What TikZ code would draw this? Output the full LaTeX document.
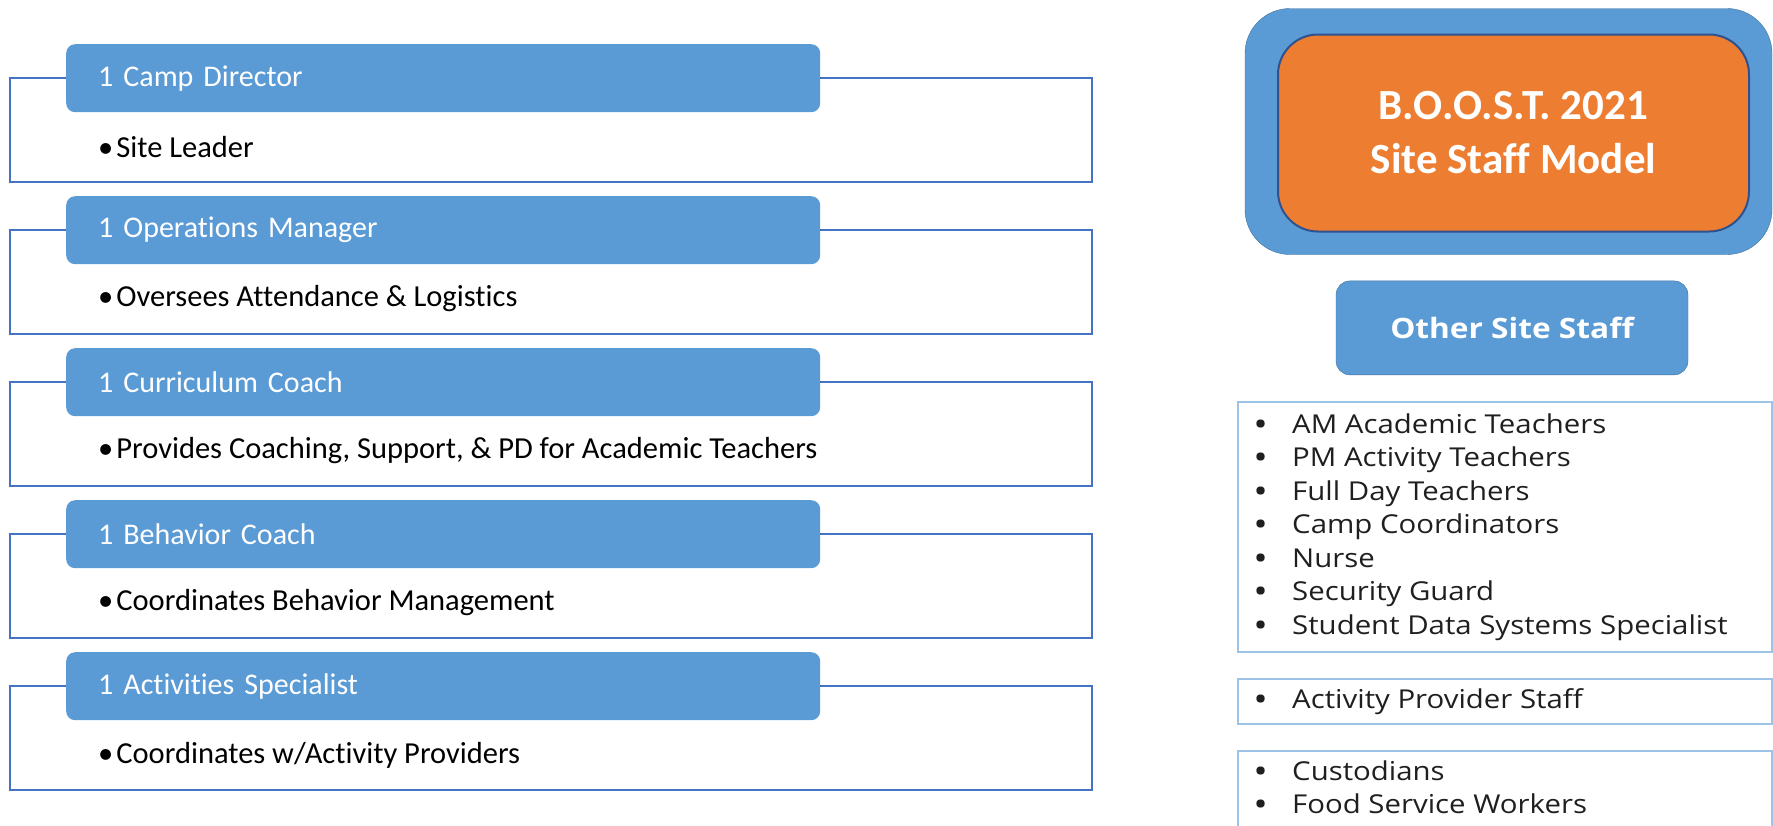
\documentclass[tikz,border=0pt]{standalone}
\usepackage{fontspec}
\setmainfont{Carlito}[Ligatures=NoCommon]
\newfontfamily\listfont{Open Sans}[FakeStretch=1.13]
\usetikzlibrary{positioning}
\definecolor{headblue}{HTML}{5B9BD5}
\definecolor{frameblue}{HTML}{4472C4}
\definecolor{boostorange}{HTML}{ED7D31}
\definecolor{darkrim}{HTML}{2F528F}
\definecolor{listrim}{HTML}{9DC3E6}
\definecolor{softrim}{HTML}{41719C}
\tikzset{roleframe/.style={draw=frameblue, line width=2pt}}
\tikzset{rolehead/.style={fill=headblue, rounded corners=9pt, minimum height=68pt,
      anchor=north west, inner xsep=32pt, text width=690pt, align=left,
      text=white, font=\fontsize{30}{36}\selectfont}}
\tikzset{roletask/.style={anchor=west, inner sep=0pt, font=\fontsize{30.5}{36}\selectfont}}
\tikzset{listbox/.style={draw=listrim, line width=2pt, anchor=north west, minimum width=534pt}}
\tikzset{staffitem/.style={anchor=base west, inner sep=0pt, text=black!88,
      font=\listfont\fontsize{26}{30}\selectfont}}
\newcommand{\staffdot}[1]{\makebox[37pt][l]{\bfseries\textbullet}#1}

\begin{document}
\begin{tikzpicture}[x=1pt,y=-1pt]
    \useasboundingbox (0,0) rectangle (1773,825);
    \clip (0,0) rectangle (1773,825);
    \foreach \i/\role/\duty in {0/1 Camp Director/Site Leader,
        1/1 Operations Manager/Oversees Attendance \& Logistics,
        2/1 Curriculum Coach/{Provides Coaching, Support, \& PD for Academic Teachers},
        3/1 Behavior Coach/Coordinates Behavior Management,
        4/1 Activities Specialist/{Coordinates w/Activity Providers}}{
      \draw[roleframe] (10,78+152*\i) rectangle (1092,182+152*\i);
      \node[rolehead] (head\i) at (66,44+152*\i) {\role};
      \node[roletask] (task\i) at (98,147+152*\i) {\textbullet\hspace{3pt}\duty};
    }

    \node[fill=headblue, draw=softrim, rounded corners=45pt, minimum width=527pt,
      minimum height=246pt] (outer) at (1508.5,131.5) {};
    \node[fill=boostorange, draw=darkrim, line width=2pt, rounded corners=40pt,
      minimum width=471pt, minimum height=197pt, align=center, text=white,
      font=\fontsize{43}{54}\selectfont\bfseries] (title) at (1513.5,133)
      {B.O.O.S.T. 2021\\Site Staff Model};
    \node[fill=headblue, draw=softrim, rounded corners=14pt, minimum width=352pt,
      minimum height=94pt, text=white, font=\listfont\fontsize{28}{32}\selectfont\bfseries,
      below=26pt of outer, xshift=3.5pt] (other) {Other Site Staff};

    \node[listbox, minimum height=250pt] (groupA) at (1237,401) {};
    \node[listbox, minimum height=45pt] (groupB) at (1237,678) {};
    \node[listbox, minimum height=110pt] (groupC) at (1237,750) {};
    \foreach \s [count=\k from 0] in {AM Academic Teachers, PM Activity Teachers,
        Full Day Teachers, Camp Coordinators, Nurse, Security Guard,
        Student Data Systems Specialist}
      \node[staffitem] (a\k) at (1255,433+33.5*\k) {\staffdot{\s}};
    \node[staffitem] (b0) at (1255,708) {\staffdot{Activity Provider Staff}};
    \node[staffitem] (c0) at (1255,780) {\staffdot{Custodians}};
    \node[staffitem] (c1) at (1255,813) {\staffdot{Food Service Workers}};
\end{tikzpicture}
\end{document}
